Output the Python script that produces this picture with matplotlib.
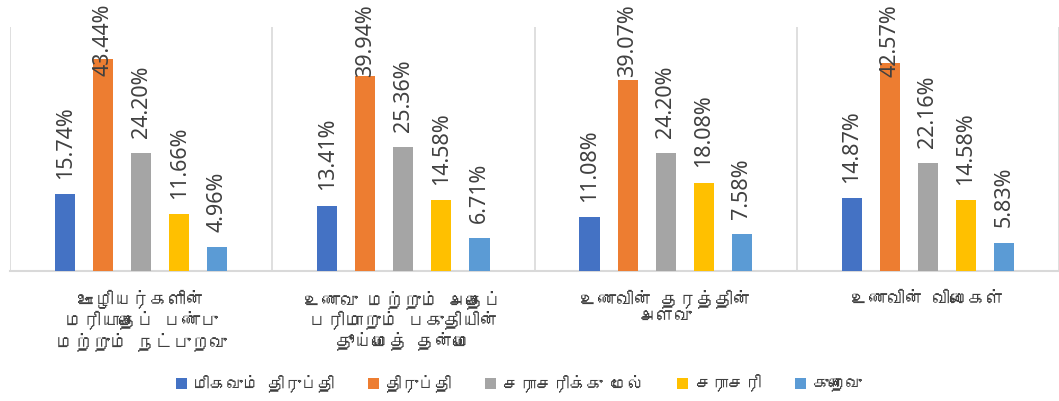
import numpy as np
import matplotlib
matplotlib.use("Agg")
import matplotlib.pyplot as plt
from matplotlib import font_manager
from matplotlib.ft2font import FT2Font

categories = [
    "ஊழியர்களின்\nமரியாதைப் பண்பு\nமற்றும் நட்புறவு",
    "உணவு மற்றும் அதைப்\nபரிமாறும் பகுதியின்\nதூய்மைத் தன்மை",
    "உணவின் தரத்தின்\nஅளவு",
    "உணவின் விலைகள்",
]
series_names = ["மிகவும் திருப்தி", "திருப்தி", "சராசரிக்கு மேல்", "சராசரி", "குறைவு"]
very_satisfied = [15.74, 13.41, 11.08, 14.87]
satisfied = [43.44, 39.94, 39.07, 42.57]
above_average = [24.20, 25.36, 24.20, 22.16]
average = [11.66, 14.58, 18.08, 14.58]
low = [4.96, 6.71, 7.58, 5.83]
colors = ["#4472C4", "#ED7D31", "#A5A5A5", "#FFC000", "#5B9BD5"]


def find_tamil_font():
    # look for any installed font that actually has Tamil glyphs
    for f in font_manager.fontManager.ttflist:
        try:
            if 0x0B89 in FT2Font(f.fname).get_charmap():
                return f.name
        except Exception:
            pass
    return None


tamil = find_tamil_font()
label_family = [tamil, "DejaVu Sans"] if tamil else ["DejaVu Sans"]

series = [very_satisfied, satisfied, above_average, average, low]
x = np.arange(len(categories))
pitch = 0.145
width = 0.077

fig = plt.figure(figsize=(10.59, 4.01), dpi=100)
ax = fig.add_axes([10 / 1059, 130 / 401, 1049 / 1059, 244 / 401])

texts = []
for i, (vals, col, name) in enumerate(zip(series, colors, series_names)):
    pos = x + (i - 2) * pitch
    bars = ax.bar(pos, vals, width=width, color=col, label=name, zorder=3)
    for b, v in zip(bars, vals):
        t = ax.annotate(f"{v:.2f}%", (b.get_x() + b.get_width() / 2, v),
                        xytext=(0, 11), textcoords="offset points",
                        rotation=90, ha="center", va="bottom",
                        fontsize=15.5, family="Noto Sans", color="#404040",
                        annotation_clip=False)
        texts.append(t)

ax.set_xlim(-0.5, len(categories) - 0.5)
ax.set_ylim(0, 50)
ax.set_yticks([])
ax.set_xticks(x)
ax.set_xticklabels(categories, family=label_family, fontsize=13,
                   color="#404040", linespacing=1.1)
ax.tick_params(axis="x", length=0, pad=14)
ax.set_xticks(np.arange(-0.5, len(categories), 1), minor=True)
ax.tick_params(axis="x", which="minor", length=0)
ax.grid(axis="x", which="minor", color="#D9D9D9", lw=1.2, zorder=0)
ax.grid(axis="x", which="major", visible=False)
for s in ["top", "right", "left"]:
    ax.spines[s].set_visible(False)
ax.spines["bottom"].set_color("#D9D9D9")
ax.spines["bottom"].set_linewidth(1.5)

leg = fig.legend(loc="center", bbox_to_anchor=(0.49, 1 - 383 / 401), ncol=5,
                 frameon=False, handlelength=0.65, handleheight=0.65,
                 handletextpad=0.4, columnspacing=2.0,
                 prop={"family": label_family, "size": 12})
for t in leg.get_texts():
    t.set_color("#404040")

# labels that would run off the top are pushed down, as in the original
fig.canvas.draw()
H = fig.bbox.height
for t in texts:
    bb = t.get_window_extent()
    if bb.y1 > H - 4:
        dy = (bb.y1 - (H - 4)) * 72 / fig.dpi
        t.xyann = (0, t.xyann[1] - dy)

fig.savefig("out.png", dpi=100)
